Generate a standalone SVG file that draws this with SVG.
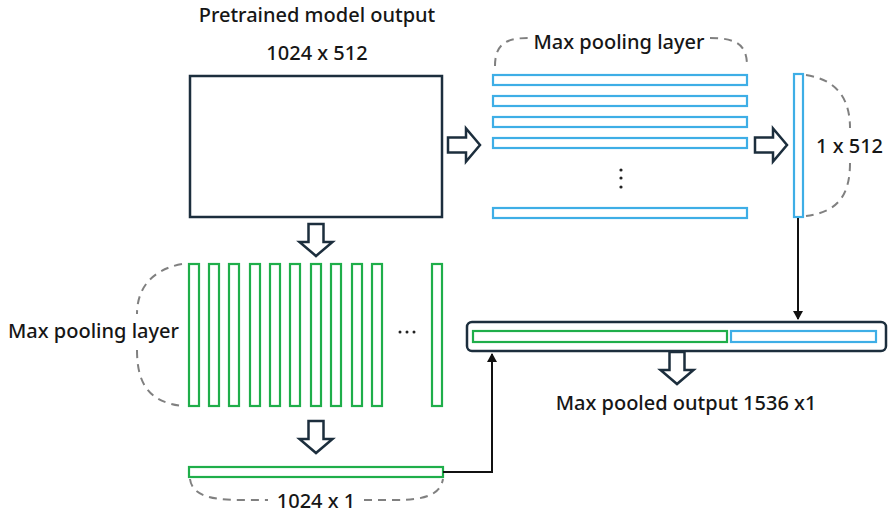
<svg xmlns="http://www.w3.org/2000/svg" width="890" height="519" viewBox="0 0 890 519">
<style>
text{font-family:"Noto Sans","Liberation Sans",sans-serif;fill:#161616;font-size:20px;font-weight:500}
.g{fill:#fff;stroke:#1fae4a;stroke-width:2.2}
.b{fill:#fff;stroke:#3eaee6;stroke-width:2.2}
.d{fill:none;stroke:#808080;stroke-width:2;stroke-dasharray:8 6}
.ba{fill:#fff;stroke:#1c2e3d;stroke-width:2.5;stroke-linejoin:miter}
.c{fill:none;stroke:#111;stroke-width:2}
</style>
<defs>
<path id="arr" d="M-7.5,0 H7.5 V18 H16.5 L0,32 L-16.5,18 H-7.5 Z"/>
<marker id="ah" markerWidth="10" markerHeight="10" refX="8" refY="5" orient="auto" markerUnits="userSpaceOnUse">
<path d="M0,0 L9,5 L0,10 Z" fill="#111"/>
</marker>
</defs>
<g id="pretrained">
<text x="317" y="22" text-anchor="middle">Pretrained model output</text>
<text x="317" y="60" text-anchor="middle">1024 x 512</text>
<rect x="190" y="76" width="252" height="141" fill="#fff" stroke="#1c2e3d" stroke-width="2.5"/>
</g>
<g id="maxpool-rows">
<path class="d" d="M495,66 C495,45 505,38 528,38"/>
<path class="d" d="M710,38 C737,38 747,45 747,66"/>
<text x="619" y="49" text-anchor="middle">Max pooling layer</text>
<rect class="b" x="493" y="75" width="254" height="10"/>
<rect class="b" x="493" y="96" width="254" height="10"/>
<rect class="b" x="493" y="117" width="254" height="10"/>
<rect class="b" x="493" y="138" width="254" height="10"/>
<rect class="b" x="493" y="208" width="254" height="10"/>
<circle cx="621" cy="170" r="1.6" fill="#222"/>
<circle cx="621" cy="178" r="1.6" fill="#222"/>
<circle cx="621" cy="187" r="1.6" fill="#222"/>
</g>
<g id="row-output">
<rect class="b" x="794" y="74" width="9" height="143"/>
<path class="d" d="M806,75 C838,80 850,100 850,128"/>
<path class="d" d="M850,163 C850,195 838,212 806,216"/>
<text x="816" y="153">1 x 512</text>
</g>
<g id="maxpool-cols">
<path class="d" d="M182,264 C150,270 137,290 137,314"/>
<path class="d" d="M137,350 C137,385 150,402 182,406"/>
<text x="8" y="338">Max pooling layer</text>
<rect class="g" x="189" y="264" width="10" height="142"/>
<rect class="g" x="209" y="264" width="10" height="142"/>
<rect class="g" x="229" y="264" width="10" height="142"/>
<rect class="g" x="250" y="264" width="10" height="142"/>
<rect class="g" x="270" y="264" width="10" height="142"/>
<rect class="g" x="290" y="264" width="10" height="142"/>
<rect class="g" x="311" y="264" width="10" height="142"/>
<rect class="g" x="331" y="264" width="10" height="142"/>
<rect class="g" x="352" y="264" width="10" height="142"/>
<rect class="g" x="372" y="264" width="10" height="142"/>
<rect class="g" x="432" y="264" width="10" height="142"/>
<circle cx="400" cy="332" r="1.5" fill="#222"/>
<circle cx="407" cy="332" r="1.5" fill="#222"/>
<circle cx="414" cy="332" r="1.5" fill="#222"/>
</g>
<g id="col-output">
<rect class="g" x="189" y="467" width="254" height="10"/>
<path class="d" d="M190,479 C192,495 210,500 240,500 L268,500"/>
<path class="d" d="M364,500 L395,500 C425,500 440,495 443,479"/>
<text x="316" y="508" text-anchor="middle">1024 x 1</text>
</g>
<g id="combined">
<rect x="467" y="322" width="419" height="29" rx="5" fill="#fff" stroke="#1c2e3d" stroke-width="2.5"/>
<rect class="g" x="473" y="331" width="254" height="11"/>
<rect class="b" x="731" y="331" width="145" height="11"/>
<text x="686" y="410" text-anchor="middle">Max pooled output 1536 x1</text>
</g>
<g id="block-arrows">
<use href="#arr" class="ba" transform="translate(316,224)"/>
<use href="#arr" class="ba" transform="translate(316,421)"/>
<use href="#arr" class="ba" transform="translate(677,352)"/>
<use href="#arr" class="ba" transform="translate(448,145) rotate(-90)"/>
<use href="#arr" class="ba" transform="translate(755,145) rotate(-90)"/>
</g>
<g id="connectors">
<path class="c" d="M798,218 V319" marker-end="url(#ah)"/>
<path class="c" d="M443,472 H492 V354" marker-end="url(#ah)"/>
</g>
</svg>
